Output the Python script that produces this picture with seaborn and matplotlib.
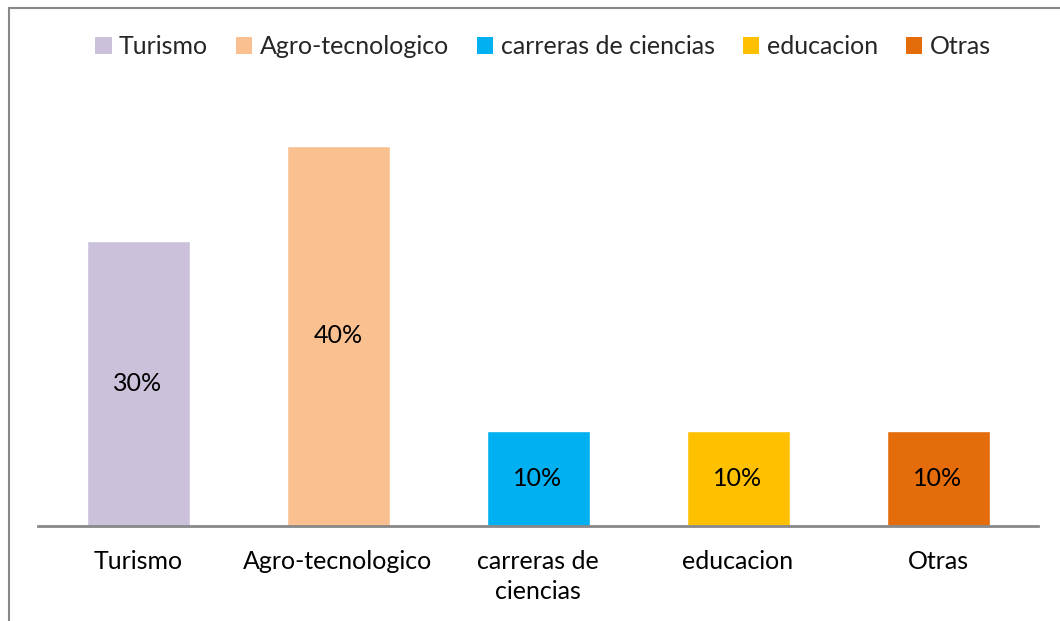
import matplotlib
matplotlib.use("Agg")
import matplotlib.pyplot as plt
from matplotlib.patches import Rectangle, Patch
import seaborn as sns
import pandas as pd

categories = ["Turismo", "Agro-tecnologico", "carreras de ciencias", "educacion", "Otras"]
tick_labels = ["Turismo", "Agro-tecnologico", "carreras de\nciencias", "educacion", "Otras"]
values = [0.30, 0.40, 0.10, 0.10, 0.10]
colors = ["#CCC1DA", "#FAC090", "#00B0F0", "#FFC000", "#E46C0A"]

sns.set_theme(style="white")
plt.rcParams["font.family"] = ["Lato", "DejaVu Sans"]

W, H = 1060, 621
fig = plt.figure(figsize=(W / 100, H / 100), dpi=100)
ax = fig.add_axes([38 / W, 1 - 526 / H, 1000 / W, (526 - 98) / H])

df = pd.DataFrame({"cat": categories, "val": values})
sns.barplot(data=df, x="cat", y="val", hue="cat", palette=colors,
            width=0.515, saturation=1, legend=False, ax=ax)

ax.set_ylim(0, 0.45)
ax.set_xlim(-0.5, 4.5)
ax.set_yticks([])
ax.set_xlabel("")
ax.set_ylabel("")
ax.set_xticks(range(len(categories)))
ax.set_xticklabels(tick_labels, fontsize=18, color="#000000", linespacing=1.4)
ax.tick_params(axis="x", length=0, pad=17)
for s in ["top", "right", "left"]:
    ax.spines[s].set_visible(False)
ax.spines["bottom"].set_color("#888888")
ax.spines["bottom"].set_linewidth(2)

for i, v in enumerate(values):
    ax.text(i, v / 2, f"{round(v * 100)}%", ha="center", va="center",
            fontsize=18, color="#000000")

handles = [Patch(facecolor=c, edgecolor="none") for c in colors]
fig.legend(handles, categories, loc="center", bbox_to_anchor=(543 / W, 1 - 47 / H),
           ncol=5, frameon=False, fontsize=18, handlelength=0.65, handleheight=0.65,
           handletextpad=0.3, columnspacing=1.12)

# chart frame
fig.patches.append(Rectangle((9 / W, -0.1), 1.2, 1 - 8 / H + 0.1, transform=fig.transFigure,
                             fill=False, edgecolor="#888888", linewidth=1.5))

fig.savefig("out.png", dpi=100)
